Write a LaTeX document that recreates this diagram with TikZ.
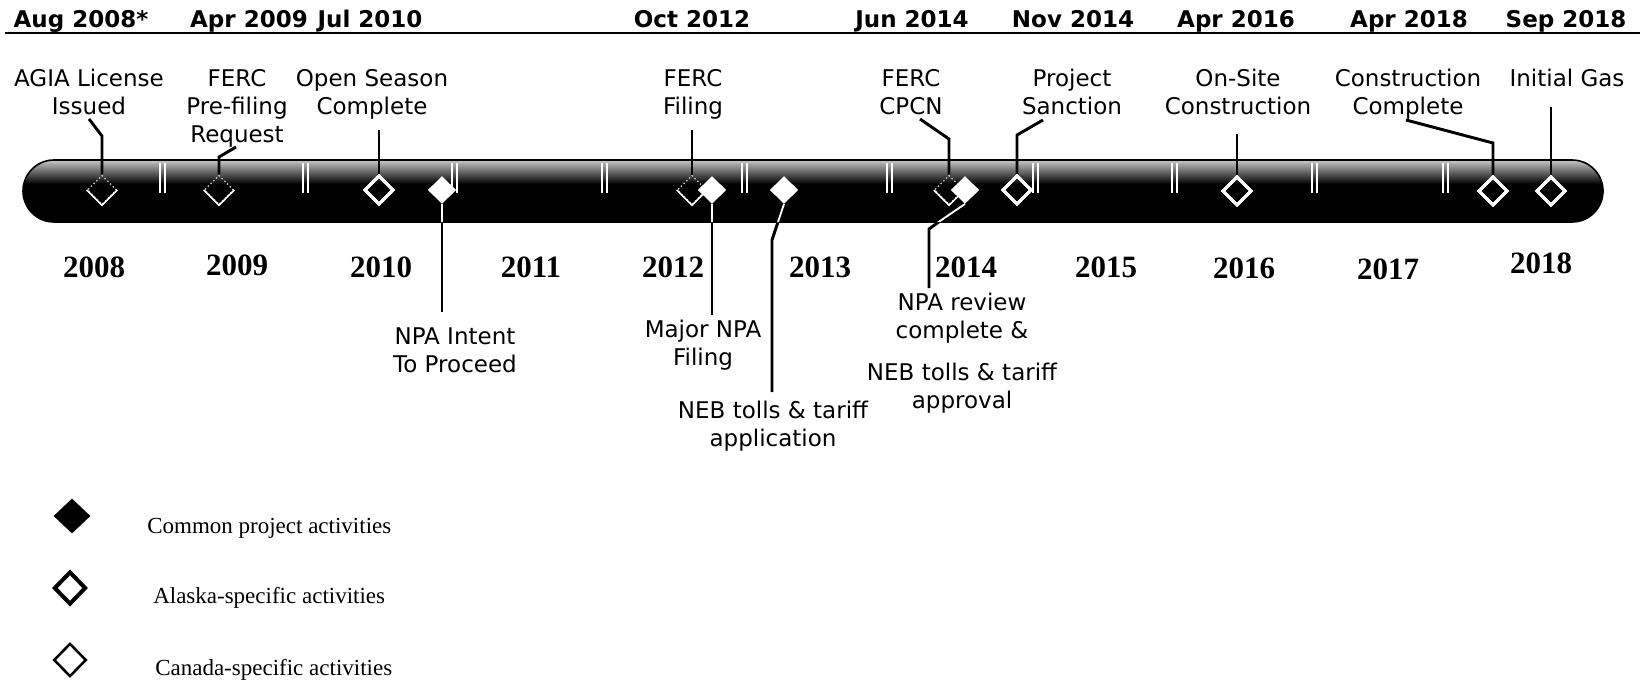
\documentclass[tikz,border=0pt]{standalone}
\usepackage{fontspec}
\setmainfont{DejaVu Sans}
\newfontfamily\yrfont{Liberation Serif}
\usetikzlibrary{shapes.geometric}
\begin{document}
\begin{tikzpicture}[x=0.75pt,y=-0.75pt,
  datelbl/.style={font=\bfseries\fontsize{17.25}{20}\selectfont, anchor=base, inner sep=0pt},
  evlbl/.style={font=\fontsize{17.25}{21}\selectfont, align=center, anchor=base, inner sep=0pt},
  yearlbl/.style={font=\yrfont\bfseries\fontsize{23.25}{26}\selectfont, anchor=base, inner sep=0pt},
  leglbl/.style={font=\yrfont\fontsize{17.25}{20}\selectfont, anchor=base west, inner sep=0pt},
  dia/.style={shape=diamond, minimum width=22pt, minimum height=22pt, inner sep=0pt},
  canada/.style={dia, draw=white, line width=2.3pt},
  common/.style={dia, fill=white, minimum width=21pt, minimum height=20.5pt},
  alaska/.style={dia, draw=black!25, line width=0.9pt, dotted},
  alaskav/.style={white, line width=1.1pt},
  conn/.style={line width=2.2pt},
  connin/.style={white, line width=1.4pt},
  tickln/.style={white, line width=0.9pt},
  barshape/.style={rounded corners=23.25pt}
]
\useasboundingbox (0,0) rectangle (1640,682);

% top rule
\coordinate (ruleL) at (5,33);
\coordinate (ruleR) at (1640,33);
\draw[line width=2pt] (ruleL) -- (ruleR);

% dates
\node[datelbl] (t1) at (81,27) {Aug 2008*};
\node[datelbl] (t2) at (249,27) {Apr 2009};
\node[datelbl] (t3) at (370,27) {Jul 2010};
\node[datelbl] (t4) at (692,27) {Oct 2012};
\node[datelbl] (t5) at (912,27) {Jun 2014};
\node[datelbl] (t6) at (1073,27) {Nov 2014};
\node[datelbl] (t7) at (1236,27) {Apr 2016};
\node[datelbl] (t8) at (1409,27) {Apr 2018};
\node[datelbl] (t9) at (1566,27) {Sep 2018};

% event labels above (positions = baseline of last line)
\node[evlbl] (e1) at (89,114) {AGIA License\\Issued};
\node[evlbl] (e2) at (237,142) {FERC\\Pre-filing\\Request};
\node[evlbl] (e3) at (372,114) {Open Season\\Complete};
\node[evlbl] (e5) at (693,114) {FERC\\Filing};
\node[evlbl] (e8) at (911,114) {FERC\\CPCN};
\node[evlbl] (e10) at (1072,114) {Project\\Sanction};
\node[evlbl] (e11) at (1238,114) {On-Site\\Construction};
\node[evlbl] (e12) at (1408,114) {Construction\\Complete};
\node[evlbl] (e13) at (1567,86) {Initial Gas};

% event labels below
\node[evlbl] (f4) at (455,372) {NPA Intent\\To Proceed};
\node[evlbl] (f6) at (703,365) {Major NPA\\Filing};
\node[evlbl] (f7) at (773,446) {NEB tolls \& tariff\\application};
\node[evlbl] (f9) at (962,408) {NPA review\\complete \&\\[10.5pt]NEB tolls \& tariff\\approval};

% bar
\fill[barshape] (23,160) rectangle (1603,222);
\begin{scope}
  \clip[barshape] (23,160) rectangle (1603,222);
  \shade[top color=black!25, bottom color=black] (23,161) rectangle (1603,184);
\end{scope}
\draw[line width=1.2pt, barshape] (23,160) rectangle (1603,222);

% year separators
\foreach \t in {162.5,305.5,454.5,604.5,744.5,889.5,1035.5,1174.5,1314.5,1445.5} {
  \draw[tickln] (\t-2.5,163) -- (\t-2.5,193);
  \draw[tickln] (\t+2.5,163) -- (\t+2.5,193);
}

% years
\node[yearlbl] (y08) at (94,277) {2008};
\node[yearlbl] (y09) at (237,275) {2009};
\node[yearlbl] (y10) at (381,277) {2010};
\node[yearlbl] (y11) at (531,277) {2011};
\node[yearlbl] (y12) at (673,277) {2012};
\node[yearlbl] (y13) at (820,277) {2013};
\node[yearlbl] (y14) at (966,277) {2014};
\node[yearlbl] (y15) at (1106,277) {2015};
\node[yearlbl] (y16) at (1244,278) {2016};
\node[yearlbl] (y17) at (1388,279) {2017};
\node[yearlbl] (y18) at (1541,273) {2018};

% diamond positions (nodes)
\node[alaska] (d1) at (102,190) {};
\node[alaska] (d2) at (219,190) {};
\node[canada] (d3) at (379,190) {};
\node[common] (d4) at (442,190) {};
\node[alaska] (d5) at (692,190) {};
\node[common] (d6) at (712,190) {};
\node[common] (d7) at (784,190) {};
\node[alaska] (d8) at (949,190) {};
\node[common] (d9) at (965,190) {};
\node[canada] (d10) at (1017,190) {};
\node[canada] (d11) at (1237,191) {};
\node[canada] (d12) at (1493,191) {};
\node[canada] (d13) at (1551,191) {};

% connector anchor points
\coordinate (u1s) at (89,119);   \coordinate (u1b) at (102,136);
\coordinate (u2s) at (236,147);  \coordinate (u2b) at (219,157);
\coordinate (u3s) at (379,130);
\coordinate (u5s) at (692,130);
\coordinate (u8s) at (920,119);  \coordinate (u8b) at (949,139);
\coordinate (u10s) at (1043,120); \coordinate (u10b) at (1017,135);
\coordinate (u11s) at (1237,134);
\coordinate (u12s) at (1406,120); \coordinate (u12b) at (1493,143);
\coordinate (u13s) at (1551,107);
\coordinate (l4e) at (442,312);
\coordinate (l6e) at (712,315);
\coordinate (l7a) at (778,222); \coordinate (l7b) at (772,240); \coordinate (l7e) at (772,392);
\coordinate (l9a) at (940,221); \coordinate (l9b) at (929,229); \coordinate (l9e) at (929,288);

% upper connectors
\draw[conn] (u1s) -- (u1b) -- (d1.north);
\draw[conn] (u2s) -- (u2b) -- (d2.north);
\draw[conn] (u3s) -- (d3.north);
\draw[conn] (u5s) -- (d5.north);
\draw[conn] (u8s) -- (u8b) -- (d8.north);
\draw[conn] (u10s) -- (u10b) -- (d10.north);
\draw[conn] (u11s) -- (d11.north);
\draw[conn] (u12s) -- (u12b) -- (d12.north);
\draw[conn] (u13s) -- (d13.north);

% lower connectors
\draw[conn] (d4.south) -- (l4e);
\draw[conn] (d6.south) -- (l6e);
\draw[conn] (d7.south) -- (l7a) -- (l7b) -- (l7e);
\draw[conn] (d9.south) -- (l9a) -- (l9b) -- (l9e);
\begin{scope}
  \clip[barshape] (23,160) rectangle (1603,222);
  \draw[connin] (d4.south) -- (l4e);
  \draw[connin] (d6.south) -- (l6e);
  \draw[connin] (d7.south) -- (l7a) -- (l7b);
  \draw[connin] (d9.south) -- (l9a) -- (l9b);
\end{scope}

% redraw diamonds on top
\node[alaska] at (d1) {};
\draw[alaskav] (d1.west) -- (d1.south) -- (d1.east);
\node[alaska] at (d2) {};
\draw[alaskav] (d2.west) -- (d2.south) -- (d2.east);
\node[canada] at (d3) {};
\node[common] at (d4) {};
\node[alaska] at (d5) {};
\draw[alaskav] (d5.west) -- (d5.south) -- (d5.east);
\node[common] at (d6) {};
\node[common] at (d7) {};
\node[alaska] at (d8) {};
\draw[alaskav] (d8.west) -- (d8.south) -- (d8.east);
\node[common] at (d9) {};
\node[canada] at (d10) {};
\node[canada] at (d11) {};
\node[canada] at (d12) {};
\node[canada] at (d13) {};

% legend
\node[dia, fill=black, minimum width=27.75pt, minimum height=26.25pt] (lg1) at (72,516) {};
\node[leglbl] (lt1) at (147,533) {Common project activities};
\node[dia, draw=black, line width=3pt, minimum width=24pt, minimum height=24.75pt] (lg2) at (70,588) {};
\node[leglbl] (lt2) at (153,603) {Alaska-specific activities};
\node[dia, draw=black, line width=1.9pt, minimum width=24.4pt, minimum height=25pt] (lg3) at (70,660) {};
\node[leglbl] (lt3) at (155,675) {Canada-specific activities};
\end{tikzpicture}
\end{document}
